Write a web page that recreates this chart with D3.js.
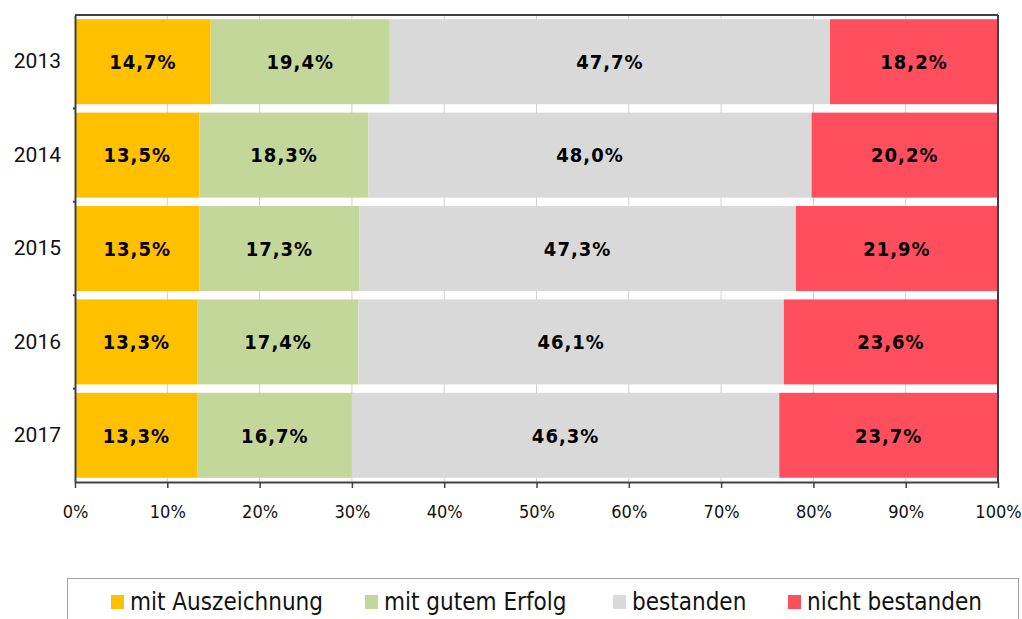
<!DOCTYPE html>
<html>
<head>
<meta charset="utf-8">
<script src="https://cdn.jsdelivr.net/npm/d3@7"></script>
<style>
  body { margin: 0; background: #fff; }
</style>
</head>
<body>
<div id="chart"></div>
<script>
// years (rows) and the four result groups
const years = ["2013", "2014", "2015", "2016", "2017"]
const seriesNames = ["mit Auszeichnung", "mit gutem Erfolg", "bestanden", "nicht bestanden"]
const seriesColors = ["#FFC000", "#C4D79B", "#D9D9D9", "#FF4F5E"]

const auszeichnung = [14.7, 13.5, 13.5, 13.3, 13.3]
const gutemErfolg = [19.4, 18.3, 17.3, 17.4, 16.7]
const bestanden = [47.7, 48.0, 47.3, 46.1, 46.3]
const nichtBestanden = [18.2, 20.2, 21.9, 23.6, 23.7]

const xTicks = [0, 10, 20, 30, 40, 50, 60, 70, 80, 90, 100]

const width = 1022, height = 619
const margin = {top: 15, right: 24, bottom: 137, left: 75}
const plotW = width - margin.left - margin.right
const plotH = height - margin.top - margin.bottom

const svg = d3.select("#chart").append("svg")
  .attr("width", width)
  .attr("height", height)

const g = svg.append("g")
  .attr("transform", `translate(${margin.left},${margin.top})`)

// clamp: rounded shares can add up to slightly over 100
const x = d3.scaleLinear().domain([0, 100]).range([0, plotW]).clamp(true)
const y = d3.scaleBand().domain(years).range([0, plotH]).paddingInner(0.09).paddingOuter(0.045)

// rows for the stack, built from the arrays above
const rows = years.map((yr, i) => ({
  year: yr,
  [seriesNames[0]]: auszeichnung[i],
  [seriesNames[1]]: gutemErfolg[i],
  [seriesNames[2]]: bestanden[i],
  [seriesNames[3]]: nichtBestanden[i]
}))
const stacked = d3.stack().keys(seriesNames)(rows)

// light vertical gridlines (only visible in gaps between bars)
g.append("g")
  .selectAll("line")
  .data(xTicks.slice(1, -1))
  .enter().append("line")
  .attr("x1", d => x(d)).attr("x2", d => x(d))
  .attr("y1", 0).attr("y2", plotH)
  .style("stroke", "#d0d0d0")
  .style("stroke-width", 1)

// bars
const layers = g.selectAll(".layer")
  .data(stacked)
  .enter().append("g")
  .attr("fill", (d, i) => seriesColors[i])

layers.selectAll("rect")
  .data(d => d)
  .enter().append("rect")
  .attr("x", d => x(d[0]))
  .attr("width", d => x(d[1]) - x(d[0]))
  .attr("y", d => y(d.data.year))
  .attr("height", y.bandwidth())

// value labels
layers.selectAll("text")
  .data(d => d.map(v => ({v: v, key: d.key})))
  .enter().append("text")
  .attr("x", d => (x(d.v[0]) + x(d.v[1])) / 2)
  .attr("y", d => y(d.v.data.year) + y.bandwidth() / 2)
  .attr("dy", "0.36em")
  .attr("text-anchor", "middle")
  .style("font-family", "DejaVu Sans Condensed")
  .style("font-weight", "bold")
  .style("font-size", "20px")
  .style("letter-spacing", "1px")
  .style("fill", "#000")
  .text(d => d.v.data[d.key].toFixed(1).replace(".", ",") + "%")

// frame: top and right border
g.append("line").attr("x1", 0).attr("x2", plotW).attr("y1", 0).attr("y2", 0)
  .style("stroke", "#404040").style("stroke-width", 2)
g.append("line").attr("x1", plotW).attr("x2", plotW).attr("y1", 0).attr("y2", plotH)
  .style("stroke", "#404040").style("stroke-width", 2)

// bottom axis
const xAxis = g.append("g")
  .attr("transform", `translate(0,${plotH})`)
  .call(d3.axisBottom(x).tickValues(xTicks).tickSize(6).tickSizeOuter(0).tickFormat(d => d + "%"))
xAxis.select(".domain").style("stroke", "#404040").style("stroke-width", 2)
xAxis.selectAll(".tick line").style("stroke", "#404040").style("stroke-width", 1.5)
xAxis.selectAll("text")
  .attr("dy", "1.5em")
  .style("font-family", "DejaVu Sans Condensed")
  .style("font-size", "18px")
  .style("fill", "#111")

// left axis
const yAxis = g.append("g")
  .call(d3.axisLeft(y).tickSize(0).tickPadding(14))
yAxis.select(".domain").style("stroke", "#404040").style("stroke-width", 2)
yAxis.selectAll("text")
  .style("font-family", "Roboto")
  .style("font-size", "21px")
  .style("fill", "#111")

// small marks on the left axis between the categories
g.append("g")
  .selectAll("line")
  .data(years.slice(1))
  .enter().append("line")
  .attr("x1", -2).attr("x2", 1)
  .attr("y1", d => y(d) - y.step() * y.paddingInner() / 2)
  .attr("y2", d => y(d) - y.step() * y.paddingInner() / 2)
  .style("stroke", "#404040")
  .style("stroke-width", 2)

// legend
const legendX = [111, 365, 613, 788]
const legend = svg.append("g")
legend.append("rect")
  .attr("x", 67.5).attr("y", 578.5)
  .attr("width", 951).attr("height", 60)
  .style("fill", "none")
  .style("stroke", "#a0a0a0")

const items = legend.selectAll(".item")
  .data(seriesNames)
  .enter().append("g")
  .attr("transform", (d, i) => `translate(${legendX[i]},595)`)
items.append("rect")
  .attr("width", 13).attr("height", 14)
  .attr("fill", (d, i) => seriesColors[i])
items.append("text")
  .attr("x", 19)
  .attr("y", 15)
  .style("font-family", "DejaVu Sans Condensed")
  .style("font-size", "24px")
  .style("fill", "#111")
  .text(d => d)
</script>
</body>
</html>
